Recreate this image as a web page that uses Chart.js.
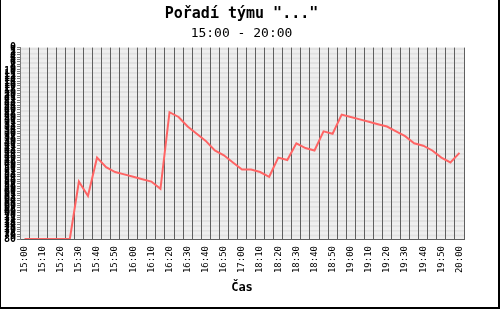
<!DOCTYPE html>
<html>
<head>
<meta charset="utf-8">
<script src="https://cdn.jsdelivr.net/npm/chart.js@4/dist/chart.umd.min.js"></script>
<style>
    html, body {
        margin: 0;
        padding: 0;
        background: #ffffff;
    }

    #frame {
        width: 500px;
        height: 309px;
        position: relative;
    }
</style>
</head>
<body>
<div id="frame">
    <canvas id="rankChart" width="500" height="309"></canvas>
</div>
<script>
"use strict";

const timeLabels = [
    "15:00", "15:05", "15:10", "15:15", "15:20", "15:25",
    "15:30", "15:35", "15:40", "15:45", "15:50", "15:55",
    "16:00", "16:05", "16:10", "16:15", "16:20", "16:25",
    "16:30", "16:35", "16:40", "16:45", "16:50", "16:55",
    "17:00", "18:05", "18:10", "18:15", "18:20", "18:25",
    "18:30", "18:35", "18:40", "18:45", "18:50", "18:55",
    "19:00", "19:05", "19:10", "19:15", "19:20", "19:25",
    "19:30", "19:35", "19:40", "19:45", "19:50", "19:55",
    "20:00"
];

const rankValues = [
    80, 80, 80, 80, 80, 80,
    56, 62, 46, 50, 52, 53,
    54, 55, 56, 59, 27, 29,
    33, 36, 39, 43, 45, 48,
    51, 51, 52, 54, 46, 47,
    40, 42, 43, 35, 36, 28,
    29, 30, 31, 32, 33, 35,
    37, 40, 41, 43, 46, 48,
    44
];

const rankMin = 0;
const rankMax = 80;

const chartTitle = "Pořadí týmu \"...\"";
const chartSubtitle = "15:00 - 20:00";
const axisTitle = "Čas";

const monoFont = "'DejaVu Sans Mono', 'Liberation Mono', monospace";

// paints the alternating stripes between the rank ticks
const stripePlugin = {

    id: "stripes",

    beforeDraw(chart) {

        const yScale = chart.scales.y;
        const area = chart.chartArea;
        const ctx = chart.ctx;

        ctx.save();

        for (let i = 0; i < yScale.ticks.length - 1; i++) {

            const top = yScale.getPixelForValue(yScale.ticks[i].value);
            const bottom = yScale.getPixelForValue(yScale.ticks[i + 1].value);

            ctx.fillStyle = i % 2 === 0 ? "#eeeeee" : "#e1e1e1";
            ctx.fillRect(
                area.left,
                Math.min(top, bottom),
                area.right - area.left,
                Math.abs(bottom - top)
            );
        }

        ctx.restore();
    }
};

// centre the title lines over the plot, not over the whole canvas
const titleShiftPlugin = {

    id: "titleShift",

    afterLayout(chart) {

        chart.boxes.forEach(box => {

            if (
                box.options &&
                box.options.text !== undefined &&
                box.options.position === "top"
            ) {
                box.left = chart.chartArea.left - 1;
            }
        });
    }
};

// black frame round the picture
const framePlugin = {

    id: "frame",

    afterDraw(chart) {

        const ctx = chart.ctx;

        ctx.save();
        ctx.fillStyle = "#000000";
        ctx.fillRect(0, 0, 1, chart.height);
        ctx.fillRect(chart.width - 2, 0, 2, chart.height);
        ctx.fillRect(0, chart.height - 2, chart.width, 2);
        ctx.restore();
    }
};

const RankChartController = {

    initialize() {

        const canvas = document.getElementById("rankChart");

        if (!canvas || typeof Chart === "undefined") {

            console.error("Chart.js not loaded.");

            return;
        }

        new Chart(canvas, {

            type: "line",

            data: {

                labels: timeLabels,

                datasets: [
                    {
                        data: rankValues,
                        borderColor: "#ff6464",
                        borderWidth: 2,
                        pointRadius: 0,
                        tension: 0,
                        fill: false
                    }
                ]
            },

            options: {

                responsive: false,
                animation: false,

                layout: {
                    padding: {
                        left: 0,
                        right: 36,
                        top: 0,
                        bottom: 10
                    }
                },

                plugins: {

                    legend: {
                        display: false
                    },

                    tooltip: {
                        enabled: false
                    },

                    title: {
                        display: true,
                        text: chartTitle,
                        color: "#000000",
                        font: {
                            family: monoFont,
                            size: 15,
                            weight: "bold"
                        },
                        padding: {
                            top: 5,
                            bottom: 1
                        }
                    },

                    subtitle: {
                        display: true,
                        text: chartSubtitle,
                        color: "#000000",
                        font: {
                            family: monoFont,
                            size: 13
                        },
                        padding: {
                            top: 2,
                            bottom: 6
                        }
                    }
                },

                scales: {

                    x: {

                        offset: true,

                        afterFit(scale) {
                            scale.height = 60;
                        },

                        grid: {
                            offset: true,
                            color: "#5f5f5f",
                            lineWidth: 1,
                            drawTicks: false
                        },

                        border: {
                            color: "#5f5f5f"
                        },

                        ticks: {
                            autoSkip: false,
                            maxRotation: 90,
                            minRotation: 90,
                            padding: 7,
                            color: "#000000",
                            font: {
                                family: monoFont,
                                size: 9
                            },
                            callback(value, index) {
                                return index % 2 === 0 ? timeLabels[index] : "";
                            }
                        },

                        title: {
                            display: true,
                            text: axisTitle,
                            color: "#000000",
                            font: {
                                family: monoFont,
                                size: 12,
                                weight: "bold"
                            },
                            padding: {
                                top: 0,
                                bottom: 4
                            }
                        }
                    },

                    y: {

                        reverse: true,
                        min: rankMin,
                        max: rankMax,

                        afterFit(scale) {
                            scale.width = 20;
                        },

                        grid: {
                            drawOnChartArea: false,
                            color: "#7a7a7a",
                            tickLength: 3
                        },

                        border: {
                            color: "#7a7a7a"
                        },

                        ticks: {
                            stepSize: 1,
                            autoSkip: false,
                            maxTicksLimit: 200,
                            padding: 1,
                            color: "#000000",
                            font: {
                                family: monoFont,
                                size: 10,
                                weight: "bold"
                            }
                        }
                    }
                }
            },

            plugins: [
                stripePlugin,
                titleShiftPlugin,
                framePlugin
            ]
        });
    }
};

document.addEventListener("DOMContentLoaded", () => {

    try {

        RankChartController.initialize();

    } catch (error) {

        console.error("Chart initialization failed", error);
    }
});
</script>
</body>
</html>
